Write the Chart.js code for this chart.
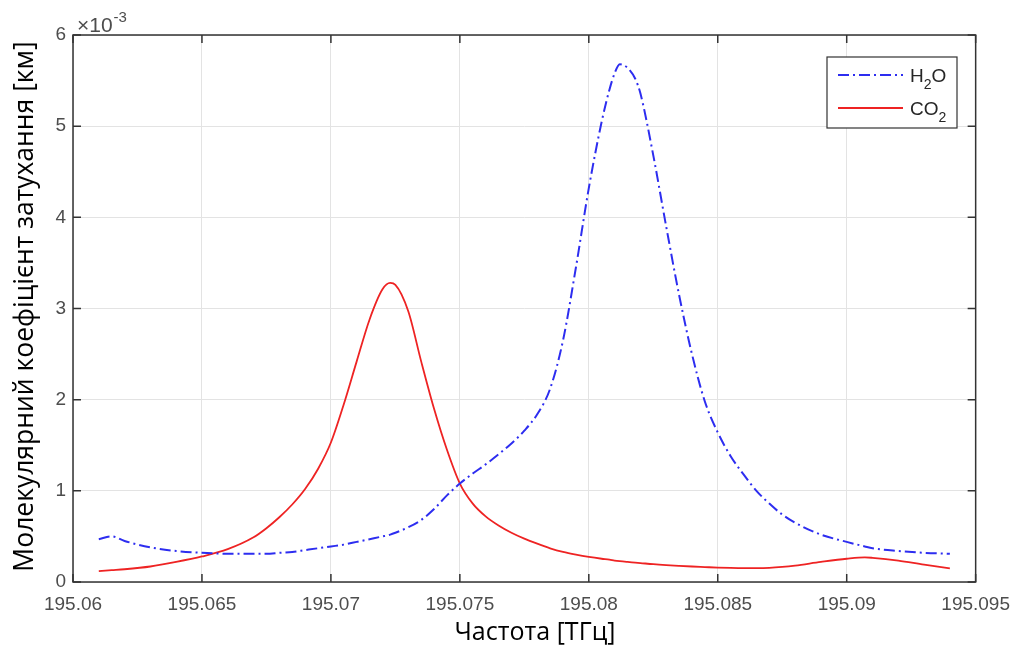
<!DOCTYPE html>
<html>
<head>
<meta charset="utf-8">
<script src="https://cdn.jsdelivr.net/npm/chart.js@4/dist/chart.umd.min.js"></script>
<style>
    body { margin: 0; background: #fff; }
    canvas { display: block; }
</style>
</head>
<body>
<canvas id="attChart" width="1021" height="654"></canvas>
<script>
// Frequency points [THz]
const freq = [195.061, 195.0615, 195.062, 195.063, 195.064, 195.065, 195.066, 195.067, 195.0675, 195.068,
              195.0685, 195.069, 195.0695, 195.070, 195.0705, 195.071, 195.0715, 195.072, 195.0723, 195.0725,
              195.073, 195.0735, 195.074, 195.0745, 195.075, 195.0755, 195.076, 195.0765, 195.077, 195.0775,
              195.078, 195.0785, 195.079, 195.0795, 195.080, 195.0805, 195.0808, 195.081, 195.0812, 195.0815,
              195.0818, 195.082, 195.0825, 195.083, 195.0835, 195.084, 195.0845, 195.085, 195.0855, 195.086,
              195.0865, 195.087, 195.0875, 195.088, 195.089, 195.090, 195.0907, 195.091, 195.092, 195.093,
              195.094];

// Attenuation coefficients, x10^-3 km
const h2o = [0.47, 0.50, 0.45, 0.38, 0.34, 0.32, 0.31, 0.31, 0.31, 0.32,
             0.33, 0.35, 0.37, 0.39, 0.41, 0.44, 0.47, 0.50, 0.52, 0.54,
             0.60, 0.68, 0.80, 0.95, 1.08, 1.19, 1.29, 1.40, 1.52, 1.66,
             1.84, 2.12, 2.65, 3.45, 4.32, 5.05, 5.40, 5.58, 5.68, 5.64,
             5.52, 5.36, 4.68, 3.90, 3.15, 2.50, 1.98, 1.64, 1.38, 1.18,
             1.00, 0.86, 0.74, 0.65, 0.52, 0.44, 0.39, 0.37, 0.34, 0.32,
             0.31];

const co2 = [0.12, 0.13, 0.14, 0.17, 0.22, 0.28, 0.36, 0.49, 0.59, 0.71,
             0.85, 1.02, 1.24, 1.53, 1.95, 2.42, 2.88, 3.21, 3.28, 3.26,
             2.97, 2.42, 1.90, 1.45, 1.08, 0.86, 0.72, 0.62, 0.54, 0.475,
             0.42, 0.37, 0.33, 0.30, 0.275, 0.255, 0.245, 0.235, 0.228, 0.22,
             0.213, 0.208, 0.195, 0.185, 0.177, 0.17, 0.164, 0.158, 0.154, 0.152,
             0.152, 0.155, 0.165, 0.18, 0.22, 0.255, 0.27, 0.265, 0.235, 0.19,
             0.15];

const xTicks = [195.06, 195.065, 195.07, 195.075, 195.08, 195.085, 195.09, 195.095];
const xTickLabels = ['195.06', '195.065', '195.07', '195.075', '195.08', '195.085', '195.09', '195.095'];
const yTicks = [0, 1, 2, 3, 4, 5, 6];
const yTickLabels = ['0', '1', '2', '3', '4', '5', '6'];

const seriesNames = ['H2O', 'CO2'];
// legend text split into base / subscript / tail
const legendParts = [['H', '2', 'O'], ['CO', '2', '']];

const xTitle = 'Частота [ТГц]';
const yTitle = 'Молекулярний коефіцієнт затухання [км]';

const tickColor = '#4d4d4d';
const blue = 'rgb(45, 45, 240)';
const red = 'rgb(238, 35, 35)';

// box, inward ticks, axis titles, exponent and legend
const matlabAxes = {
    id: 'matlabAxes',
    beforeDatasetsDraw(chart) {
        const { ctx, chartArea: a, scales } = chart;
        ctx.save();
        ctx.strokeStyle = '#333';
        ctx.lineWidth = 1.5;
        ctx.strokeRect(a.left, a.top, a.right - a.left, a.bottom - a.top);
        ctx.beginPath();
        xTicks.forEach(v => {
            const px = scales.x.getPixelForValue(v);
            ctx.moveTo(px, a.bottom); ctx.lineTo(px, a.bottom - 8);
            ctx.moveTo(px, a.top); ctx.lineTo(px, a.top + 8);
        });
        yTicks.forEach(v => {
            const py = scales.y.getPixelForValue(v);
            ctx.moveTo(a.left, py); ctx.lineTo(a.left + 8, py);
            ctx.moveTo(a.right, py); ctx.lineTo(a.right - 8, py);
        });
        ctx.stroke();
        ctx.restore();
    },
    afterDraw(chart) {
        const { ctx, chartArea: a } = chart;
        ctx.save();

        // exponent label
        ctx.fillStyle = tickColor;
        ctx.textBaseline = 'alphabetic';
        ctx.textAlign = 'left';
        ctx.font = '21px "Liberation Sans", Arial, sans-serif';
        ctx.fillText('×10', a.left + 4, a.top - 3);
        const w = ctx.measureText('×10').width;
        ctx.font = '15px "Liberation Sans", Arial, sans-serif';
        ctx.fillText('-3', a.left + 4 + w + 1, a.top - 13);

        // axis titles
        ctx.fillStyle = '#000';
        ctx.font = '25px "Open Sans", sans-serif';
        ctx.textAlign = 'center';
        ctx.textBaseline = 'middle';
        ctx.fillText(xTitle, 535, 633);
        ctx.translate(25, (a.top + a.bottom) / 2 - 2);
        ctx.rotate(-Math.PI / 2);
        ctx.font = '26.5px "Open Sans", sans-serif';
        ctx.fillText(yTitle, 0, 0);
        ctx.setTransform(1, 0, 0, 1, 0, 0);

        // legend
        const bx = 827, by = 57, bw = 130, bh = 71;
        ctx.fillStyle = '#fff';
        ctx.fillRect(bx, by, bw, bh);
        ctx.strokeStyle = '#333';
        ctx.lineWidth = 1.2;
        ctx.strokeRect(bx, by, bw, bh);
        chart.data.datasets.forEach((ds, i) => {
            const ly = by + 18 + i * 33;
            ctx.beginPath();
            ctx.strokeStyle = ds.borderColor;
            ctx.lineWidth = 2;
            ctx.setLineDash(ds.borderDash || []);
            ctx.moveTo(bx + 11, ly);
            ctx.lineTo(bx + 76, ly);
            ctx.stroke();
            ctx.setLineDash([]);
            const [base, sub, tail] = legendParts[i];
            ctx.fillStyle = '#262626';
            ctx.textAlign = 'left';
            ctx.textBaseline = 'alphabetic';
            ctx.font = '19px "Liberation Sans", Arial, sans-serif';
            let tx = bx + 83;
            ctx.fillText(base, tx, ly + 7);
            tx += ctx.measureText(base).width;
            ctx.font = '14px "Liberation Sans", Arial, sans-serif';
            ctx.fillText(sub, tx, ly + 14);
            tx += ctx.measureText(sub).width;
            ctx.font = '19px "Liberation Sans", Arial, sans-serif';
            ctx.fillText(tail, tx, ly + 7);
        });
        ctx.restore();
    }
};

const ctx = document.getElementById('attChart').getContext('2d');
new Chart(ctx, {
    type: 'line',
    data: {
        datasets: [
            {
                label: seriesNames[0],
                data: freq.map((f, i) => ({ x: f, y: h2o[i] })),
                borderColor: blue,
                borderWidth: 2,
                borderDash: [11, 4, 2, 4],
                pointRadius: 0,
                cubicInterpolationMode: 'monotone',
                fill: false
            },
            {
                label: seriesNames[1],
                data: freq.map((f, i) => ({ x: f, y: co2[i] })),
                borderColor: red,
                borderWidth: 1.8,
                pointRadius: 0,
                cubicInterpolationMode: 'monotone',
                fill: false
            }
        ]
    },
    options: {
        responsive: false,
        animation: false,
        events: [],
        layout: { padding: { left: 0, top: 35, right: 45, bottom: 0 } },
        plugins: {
            legend: { display: false },
            tooltip: { enabled: false }
        },
        scales: {
            x: {
                type: 'linear',
                min: 195.06,
                max: 195.095,
                afterBuildTicks: scale => { scale.ticks = xTicks.map(v => ({ value: v })); },
                afterFit: scale => { scale.height = 72; },
                ticks: {
                    callback: (v, i) => xTickLabels[i],
                    color: tickColor,
                    font: { family: '"Liberation Sans", Arial, sans-serif', size: 19 },
                    padding: 11,
                    maxRotation: 0,
                    autoSkip: false
                },
                grid: { color: '#e3e3e3', lineWidth: 1, drawTicks: false },
                border: { display: false }
            },
            y: {
                min: 0,
                max: 6,
                afterBuildTicks: scale => { scale.ticks = yTicks.map(v => ({ value: v })); },
                afterFit: scale => { scale.width = 73; },
                ticks: {
                    callback: (v, i) => yTickLabels[i],
                    color: tickColor,
                    font: { family: '"Liberation Sans", Arial, sans-serif', size: 19 },
                    padding: 7
                },
                grid: { color: '#e3e3e3', lineWidth: 1, drawTicks: false },
                border: { display: false }
            }
        }
    },
    plugins: [matlabAxes]
});
</script>
</body>
</html>
